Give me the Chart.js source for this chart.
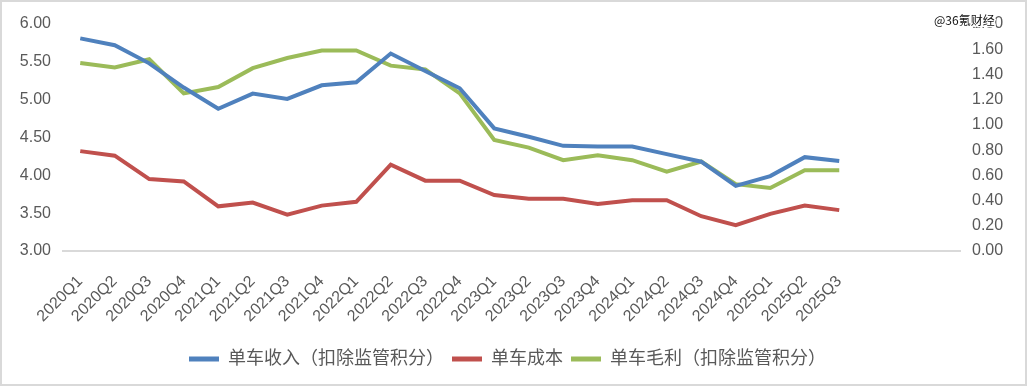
<!DOCTYPE html>
<html>
<head>
<meta charset="utf-8">
<script src="https://cdn.jsdelivr.net/npm/chart.js@4/dist/chart.umd.min.js"></script>
<style>
  html, body { margin: 0; padding: 0; background: #fff; }
  #wrap { width: 1027px; height: 386px; position: relative; }
</style>
</head>
<body>
<div id="wrap"><canvas id="unitChart"></canvas></div>
<script>
// Données par trimestre
const quarters = ['2020Q1','2020Q2','2020Q3','2020Q4','2021Q1','2021Q2','2021Q3','2021Q4',
  '2022Q1','2022Q2','2022Q3','2022Q4','2023Q1','2023Q2','2023Q3','2023Q4',
  '2024Q1','2024Q2','2024Q3','2024Q4','2025Q1','2025Q2','2025Q3'];
// l'axe Excel continue sur 3 emplacements vides
const emptySlots = ['', '', ''];

const revenue = [5.81, 5.72, 5.48, 5.16, 4.88, 5.08, 5.01, 5.19, 5.23, 5.61, 5.38, 5.15,
  4.62, 4.51, 4.39, 4.38, 4.38, 4.28, 4.18, 3.86, 3.99, 4.24, 4.19];
const cost = [4.32, 4.26, 3.95, 3.92, 3.59, 3.64, 3.48, 3.60, 3.65, 4.14, 3.93, 3.93,
  3.74, 3.69, 3.69, 3.62, 3.67, 3.67, 3.46, 3.34, 3.49, 3.60, 3.54];
const margin = [1.49, 1.455, 1.52, 1.25, 1.30, 1.45, 1.53, 1.59, 1.59, 1.47, 1.44, 1.25,
  0.88, 0.82, 0.72, 0.76, 0.72, 0.63, 0.71, 0.53, 0.50, 0.64, 0.64];

const seriesNames = ['单车收入（扣除监管积分）', '单车成本', '单车毛利（扣除监管积分）'];
const leftTicks = [3, 3.5, 4, 4.5, 5, 5.5, 6];
const rightTicks = [0, 0.2, 0.4, 0.6, 0.8, 1.0, 1.2, 1.4, 1.6, 1.8];

const textColor = '#595959';
const fontFamily = '"Liberation Sans", Arial, "Noto Sans CJK SC", sans-serif';

// Cadre gris + filigrane
const decorPlugin = {
    id: 'decor',
    afterDraw(chart) {
        const ctx = chart.ctx;
        ctx.save();
        ctx.strokeStyle = '#d9d9d9';
        ctx.lineWidth = 2;
        ctx.strokeRect(1, 1, chart.width - 2, chart.height - 2);
        ctx.font = '12px "Noto Sans CJK SC", sans-serif';
        ctx.textBaseline = 'middle';
        ctx.lineWidth = 3;
        ctx.strokeStyle = '#fff';
        ctx.strokeText('@36氪财经', 934, 20);
        ctx.fillStyle = '#111';
        ctx.fillText('@36氪财经', 934, 20);
        ctx.restore();
    }
};

function line(label, data, color, axis) {
    return {
        label: label,
        data: data,
        yAxisID: axis,
        borderColor: color,
        backgroundColor: color,
        borderWidth: 4,
        pointRadius: 0,
        tension: 0,
        fill: false
    };
}

new Chart(document.getElementById('unitChart').getContext('2d'), {
    type: 'line',
    data: {
        labels: quarters.concat(emptySlots),
        datasets: [
            line(seriesNames[0], revenue, '#4f81bd', 'y'),
            line(seriesNames[1], cost, '#c0504d', 'y'),
            line(seriesNames[2], margin, '#9bbb59', 'y1')
        ]
    },
    options: {
        responsive: true,
        maintainAspectRatio: false,
        animation: false,
        layout: { padding: { left: 6, right: 18, top: 24, bottom: 8 } },
        plugins: {
            legend: {
                position: 'bottom',
                labels: {
                    color: textColor,
                    font: { size: 18, family: fontFamily },
                    boxWidth: 30,
                    boxHeight: 5,
                    padding: 8,
                    generateLabels(chart) {
                        return chart.data.datasets.map((ds, i) => ({
                            text: ds.label,
                            fillStyle: ds.borderColor,
                            strokeStyle: ds.borderColor,
                            lineWidth: 0,
                            fontColor: textColor,
                            datasetIndex: i
                        }));
                    }
                }
            },
            tooltip: { enabled: false }
        },
        scales: {
            x: {
                offset: true,
                afterFit(scale) { scale.height = 91; },
                grid: { display: false, drawTicks: false },
                border: { display: true, color: '#d9d9d9', width: 2 },
                ticks: {
                    color: textColor,
                    font: { size: 16, family: fontFamily },
                    minRotation: 45,
                    maxRotation: 45,
                    autoSkip: false,
                    padding: 21
                }
            },
            y: {
                position: 'left',
                min: 3, max: 6,
                afterBuildTicks(scale) { scale.ticks = leftTicks.map(v => ({ value: v })); },
                afterFit(scale) { scale.width = 57; },
                grid: { display: false, drawTicks: false },
                border: { display: false },
                ticks: {
                    color: textColor,
                    font: { size: 16, family: fontFamily },
                    padding: 12,
                    callback: v => v.toFixed(2)
                }
            },
            y1: {
                position: 'right',
                min: 0, max: 1.8,
                afterBuildTicks(scale) { scale.ticks = rightTicks.map(v => ({ value: v })); },
                afterFit(scale) { scale.width = 49; },
                grid: { display: false, drawTicks: false },
                border: { display: false },
                ticks: {
                    color: textColor,
                    font: { size: 16, family: fontFamily },
                    padding: 12,
                    callback: v => v.toFixed(2)
                }
            }
        }
    },
    plugins: [decorPlugin]
});
</script>
</body>
</html>
